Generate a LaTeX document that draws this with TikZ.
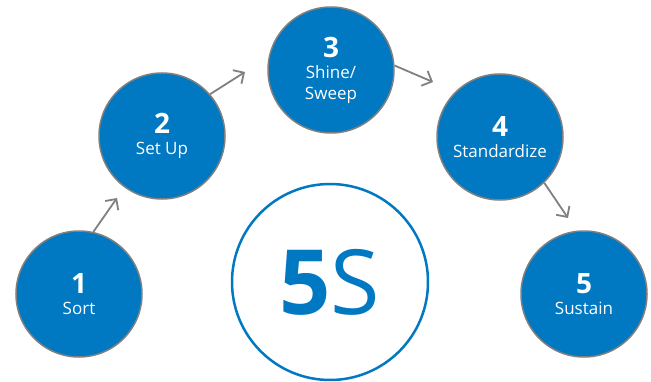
\documentclass[tikz,border=0pt]{standalone}
\usepackage{fontspec}
\setmainfont{Open Sans}
\usetikzlibrary{arrows.meta}
\definecolor{stepblue}{RGB}{0,120,194}
\definecolor{ringgray}{RGB}{128,128,128}
\tikzset{
  stage/.style={circle, draw=ringgray, line width=1.5pt, fill=stepblue, text=white,
    minimum size=126pt, inner sep=0pt, align=center, font=\fontsize{17}{21}\selectfont},
  flow/.style={draw=ringgray, line width=1.8pt, -{Straight Barb[length=8pt,width=16pt]}}
}
\newcommand{\stepnum}[1]{{\fontsize{28}{28}\selectfont\bfseries #1}}

\begin{document}
\begin{tikzpicture}[x=1pt,y=1pt]
    \useasboundingbox (0,0) rectangle (651,381);

    % Nodes
    \node[stage] at (79,87) (S1) {\stepnum{1}\\Sort};
    \node[stage] at (162,245) (S2) {\stepnum{2}\\Set Up};
    \node[stage] at (331,311) (S3) {\stepnum{3}\\Shine/\\Sweep};
    \node[stage] at (500,244) (S4) {\stepnum{4}\\Standardize};
    \node[stage] at (584,87) (S5) {\stepnum{5}\\Sustain};
    \node[circle, draw=stepblue, line width=2.5pt, minimum size=196pt, inner sep=0pt,
      text=stepblue, font=\fontsize{90}{90}\selectfont] at (330,99) (FiveS) {\textbf{5}S};

    % Arrow tips
    \coordinate (T12) at (117,183);
    \coordinate (T23) at (245,309);
    \coordinate (T34) at (433,299);
    \coordinate (T45) at (568,163);

    % Arrows
    \draw[flow] (S1.77) -- (T12);
    \draw[flow] (S2.41) -- (T23);
    \draw[flow] (S3.4) -- (T34);
    \draw[flow] (S4.-46) -- (T45);
\end{tikzpicture}
\end{document}
